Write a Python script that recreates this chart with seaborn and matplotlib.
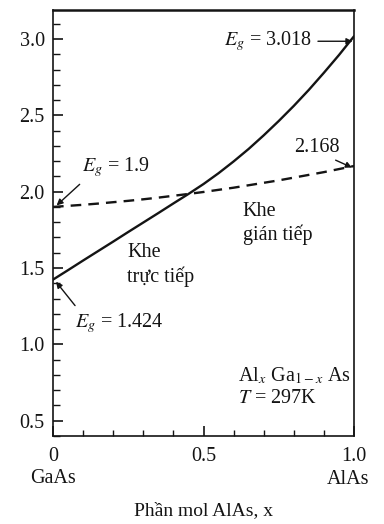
import matplotlib
matplotlib.use("Agg")
import matplotlib.pyplot as plt
from matplotlib.ticker import MultipleLocator, FixedLocator
import numpy as np
import pandas as pd
import seaborn as sns

# AlAs mole fraction and band gaps (eV) of AlxGa1-xAs at 297 K
mole_fraction = [0.00, 0.05, 0.10, 0.15, 0.20, 0.25, 0.30, 0.35, 0.40, 0.45, 0.50,
                 0.55, 0.60, 0.65, 0.70, 0.75, 0.80, 0.85, 0.90, 0.95, 1.00]
direct_gap = [1.424, 1.486, 1.549, 1.611, 1.673, 1.736, 1.798, 1.860, 1.923, 1.985, 2.050,
              2.121, 2.198, 2.280, 2.369, 2.463, 2.562, 2.667, 2.779, 2.895, 3.018]
indirect_gap = [1.900, 1.907, 1.914, 1.922, 1.931, 1.940, 1.950, 1.961, 1.973, 1.985, 1.998,
                2.012, 2.026, 2.042, 2.058, 2.074, 2.092, 2.110, 2.128, 2.148, 2.168]

x_ticks = [0.0, 0.5, 1.0]
x_tick_labels = ["0", "0.5", "1.0"]
y_ticks = [0.5, 1.0, 1.5, 2.0, 2.5, 3.0]

sns.set_theme(style="ticks")
plt.rcParams["font.family"] = ["Liberation Serif", "DejaVu Serif"]
plt.rcParams["mathtext.fontset"] = "stix"

ink = "#141414"

df = pd.DataFrame({"x": mole_fraction * 2,
                   "Eg": direct_gap + indirect_gap,
                   "gap": ["direct"] * len(direct_gap) + ["indirect"] * len(indirect_gap)})

fig = plt.figure(figsize=(3.84, 5.24), dpi=100)
ax = fig.add_axes([0.138, 0.168, 0.784, 0.813])

sns.lineplot(data=df, x="x", y="Eg", style="gap", color=ink, linewidth=1.7,
             dashes={"direct": "", "indirect": (4.5, 3)}, legend=False, ax=ax)

ax.set_xlim(0, 1.0)
ax.set_ylim(0.4, 3.19)

ax.xaxis.set_major_locator(FixedLocator(x_ticks))
ax.set_xticklabels(x_tick_labels)
ax.xaxis.set_minor_locator(MultipleLocator(0.1))
ax.yaxis.set_major_locator(FixedLocator(y_ticks))
ax.yaxis.set_minor_locator(MultipleLocator(0.1))

ax.tick_params(which="both", direction="in", colors=ink, top=False, right=False)
ax.tick_params(which="major", length=7, width=1.2, labelsize=14.5, pad=6)
ax.tick_params(axis="x", which="major", pad=8)
ax.tick_params(which="minor", length=4, width=1.0)
ax.tick_params(axis="y", which="minor", length=5)

for side in ["left", "bottom", "right"]:
    ax.spines[side].set_color(ink)
    ax.spines[side].set_linewidth(1.2)
ax.spines["top"].set_color(ink)
ax.spines["top"].set_linewidth(1.8)

ax.set_xlabel("Phần mol AlAs, x", fontsize=14, color=ink, labelpad=26)
ax.set_ylabel("")

xax = ax.get_xaxis_transform()
ax.text(0.0, -0.101, "GaAs", transform=xax, ha="center", va="center", fontsize=14.5, color=ink)
ax.text(0.98, -0.103, "AlAs", transform=xax, ha="center", va="center", fontsize=14.5, color=ink)

arrow = dict(arrowstyle="-|>", color=ink, lw=1.0, mutation_scale=9, shrinkA=2, shrinkB=0)
fs = 14.5

ax.annotate("$E_g$ = 3.018", xy=(0.995, 2.985), xytext=(0.86, 2.985),
            ha="right", va="center", fontsize=fs, color=ink, arrowprops=arrow)
ax.annotate("2.168", xy=(0.993, 2.158), xytext=(0.877, 2.29),
            ha="center", va="center", fontsize=fs, color=ink,
            arrowprops=dict(arrow, shrinkA=0, relpos=(0.75, 0.0)))
ax.annotate("$E_g$ = 1.9", xy=(0.012, 1.91), xytext=(0.096, 2.16),
            ha="left", va="center", fontsize=fs, color=ink,
            arrowprops=dict(arrow, relpos=(0.05, 0.0)))
ax.annotate("$E_g$ = 1.424", xy=(0.01, 1.41), xytext=(0.073, 1.14),
            ha="left", va="center", fontsize=fs, color=ink,
            arrowprops=dict(arrow, relpos=(0.05, 1.0)))

ax.text(0.63, 1.79, "Khe\ngián tiếp", ha="left", va="center", fontsize=fs,
        color=ink, linespacing=1.25)
ax.text(0.246, 1.52, "Khe\ntrực tiếp", ha="left", va="center", fontsize=fs,
        color=ink, linespacing=1.25)
ax.text(0.615, 0.72, "Al$_x$ Ga$_{1\u2212x}$ As\n$T$ = 297K", ha="left", va="center",
        fontsize=fs, color=ink, linespacing=1.2)

fig.savefig("out.png", dpi=100, facecolor="white")
